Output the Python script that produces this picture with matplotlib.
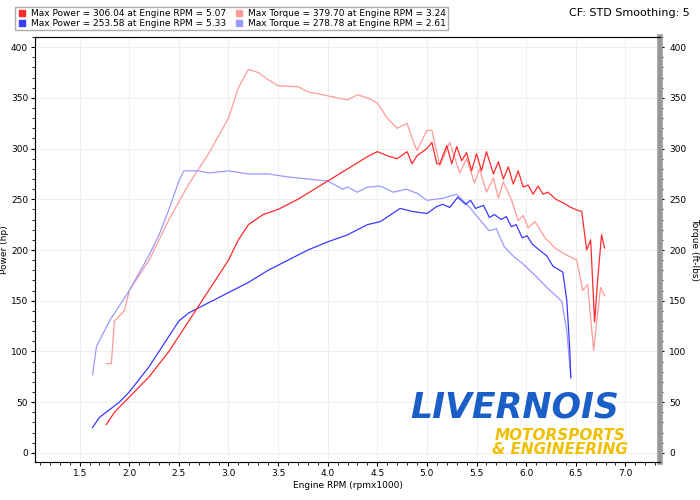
import matplotlib
matplotlib.use("Agg")
import matplotlib.pyplot as plt
from matplotlib.lines import Line2D
from matplotlib.ticker import MultipleLocator

red_pw_rpm = [1.77,1.85,1.9,2.0,2.2,2.4,2.6,2.8,3.0,3.1,3.2,3.35,3.5,3.7,3.9,4.0,4.2,4.4,4.5,4.6,4.7,4.8,4.85,4.9,5.0,5.05,5.1,5.13,5.2,5.25,5.3,5.35,5.4,5.45,5.5,5.55,5.6,5.67,5.72,5.77,5.82,5.87,5.92,5.97,6.02,6.07,6.12,6.17,6.22,6.3,6.4,6.45,6.52,6.56,6.61,6.65,6.69,6.72,6.76,6.79]
red_pw = [28,40,45,55,75,100,130,160,190,210,225,235,240,250,262,268,280,292,297,293,290,297,285,293,300,306,285,285,303,285,302,288,296,278,295,278,297,275,287,270,282,265,278,262,264,255,263,255,257,250,245,242,239,238,200,210,129,170,215,202]
ltred_tq_rpm = [1.77,1.82,1.85,1.95,2.0,2.2,2.4,2.6,2.8,3.0,3.1,3.2,3.3,3.4,3.5,3.7,3.8,4.0,4.2,4.3,4.4,4.5,4.6,4.7,4.8,4.85,4.9,5.0,5.05,5.13,5.23,5.33,5.4,5.48,5.53,5.6,5.67,5.72,5.77,5.85,5.92,5.97,6.02,6.09,6.19,6.29,6.39,6.51,6.57,6.62,6.68,6.75,6.79]
ltred_tq = [88,88,130,140,160,190,230,265,295,330,360,378,375,368,362,361,356,352,348,353,350,345,330,320,325,310,298,318,318,283,306,276,290,266,280,257,271,251,267,250,229,234,222,228,212,202,196,190,160,166,101,163,155]
blue_pw_rpm = [1.63,1.7,1.9,2.0,2.2,2.4,2.5,2.6,2.8,3.0,3.2,3.4,3.6,3.8,4.0,4.2,4.4,4.53,4.73,4.85,5.0,5.1,5.16,5.23,5.31,5.39,5.44,5.49,5.57,5.63,5.68,5.75,5.8,5.85,5.9,5.96,6.01,6.06,6.12,6.21,6.27,6.34,6.37,6.41,6.44,6.45]
blue_pw = [25,35,50,60,85,115,130,138,148,158,168,180,190,200,208,215,225,228,241,238,236,243,245,242,252,245,249,241,244,232,235,230,233,223,225,212,214,206,201,194,184,180,178,150,101,74]
ltblue_tq_rpm = [1.63,1.67,1.8,2.0,2.2,2.3,2.4,2.5,2.55,2.7,2.8,3.0,3.2,3.4,3.6,3.8,4.0,4.15,4.2,4.3,4.4,4.53,4.66,4.79,4.9,5.0,5.16,5.3,5.43,5.6,5.63,5.7,5.78,5.88,5.96,6.09,6.22,6.32,6.36,6.41,6.45]
ltblue_tq = [77,105,130,160,195,215,240,268,278,278,276,278,275,275,272,270,268,260,262,257,262,263,257,260,256,249,251,255,242,222,219,221,203,193,187,175,162,153,149,120,75]

legend_labels = ["Max Power = 306.04 at Engine RPM = 5.07",
                 "Max Power = 253.58 at Engine RPM = 5.33",
                 "Max Torque = 379.70 at Engine RPM = 3.24",
                 "Max Torque = 278.78 at Engine RPM = 2.61"]

C_RED, C_LRED, C_BLUE, C_LBLUE = "#ff2a2a", "#ff9a9a", "#3a3aff", "#9a9aff"
FS = 6.5

fig = plt.figure(figsize=(7, 5), dpi=100)
ax = fig.add_axes([0.050, 0.076, 0.893, 0.850])
ax.plot(ltred_tq_rpm, ltred_tq, color=C_LRED, lw=0.9)
ax.plot(ltblue_tq_rpm, ltblue_tq, color=C_LBLUE, lw=0.9)
ax.plot(blue_pw_rpm, blue_pw, color=C_BLUE, lw=0.9)
ax.plot(red_pw_rpm, red_pw, color=C_RED, lw=0.9)
ax.set_xlim(1.05, 7.35)
ax.set_ylim(-9, 410)
ax.xaxis.set_major_locator(MultipleLocator(0.5))
ax.xaxis.set_minor_locator(MultipleLocator(0.1))
ax.yaxis.set_major_locator(MultipleLocator(50))
ax.yaxis.set_minor_locator(MultipleLocator(10))
ax.grid(True, which="major", color="#eeeeee", lw=0.7)
ax.tick_params(labelsize=FS, length=3, which="both", direction="out", pad=2)
ax.tick_params(which="minor", length=2)
ax.xaxis.set_major_formatter(matplotlib.ticker.FuncFormatter(lambda v, p: f"{v:.1f}"))
for s in ["top", "left", "bottom"]:
    ax.spines[s].set_color("#888888")
ax.set_xlabel("Engine RPM (rpmx1000)", fontsize=FS, labelpad=2)
ax.set_ylabel("Power (hp)", fontsize=FS, labelpad=1)

ax2 = ax.twinx()
ax2.set_ylim(ax.get_ylim())
ax2.yaxis.set_major_locator(MultipleLocator(50))
ax2.yaxis.set_minor_locator(MultipleLocator(10))
ax2.tick_params(labelsize=FS, length=3, which="both")
ax2.tick_params(which="minor", length=2)
ax2.spines["right"].set_color("#999999")
ax2.spines["right"].set_linewidth(4)
ax2.set_ylabel("Torque (ft-lbs)", fontsize=FS, rotation=270, labelpad=9)

handles = [Line2D([], [], marker="s", ls="none", color=c, markersize=5) for c in (C_RED, C_BLUE, C_LRED, C_LBLUE)]
fig.legend(handles, legend_labels, ncol=2, loc="upper left", bbox_to_anchor=(0.015, 0.995),
           fontsize=FS, frameon=True, edgecolor="#999999", fancybox=False,
           handlelength=1.2, handletextpad=0.4, columnspacing=0.8, labelspacing=0.1, borderpad=0.2)
fig.text(0.985, 0.975, "CF: STD Smoothing: 5", ha="right", va="center", fontsize=8)

fig.text(0.735, 0.185, "LIVERNOIS", ha="center", va="center", fontsize=25, fontweight="bold",
         style="italic", color="#1a5fc8")
fig.text(0.80, 0.115, "MOTORSPORTS\n& ENGINEERING", ha="center", va="center", fontsize=11,
         fontweight="bold", style="italic", color="#f0c000", linespacing=0.9)

fig.savefig("out.png", dpi=100)
